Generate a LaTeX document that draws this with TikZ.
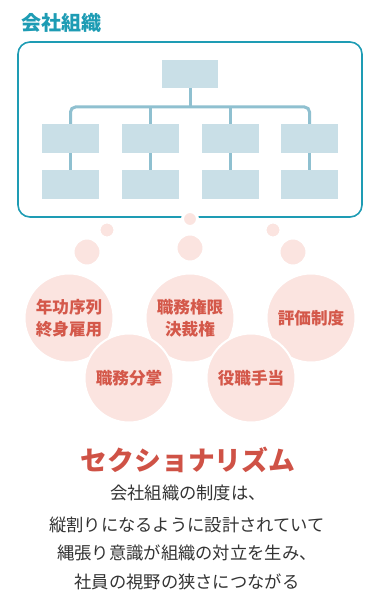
\documentclass[tikz,border=0pt]{standalone}
\usepackage{fontspec}
\setmainfont{Noto Sans CJK JP}
\usetikzlibrary{positioning}
\definecolor{teal1}{HTML}{1E9CB4}
\definecolor{boxfill}{HTML}{C9DFE7}
\definecolor{linec}{HTML}{8FC0D0}
\definecolor{pinkfill}{HTML}{FBE4E0}
\definecolor{redtxt}{HTML}{D4584A}
\definecolor{redtitle}{HTML}{CF5246}
\definecolor{graytxt}{HTML}{333333}
\tikzset{
  orgbox/.style={fill=boxfill, draw=none, minimum width=57pt, minimum height=29pt, inner sep=0pt},
  orgline/.style={draw=linec, line width=3pt},
  bubble/.style={circle, fill=pinkfill, draw=white, line width=2pt, inner sep=0pt},
  bigbubble/.style={bubble, minimum size=89pt, text=redtxt, font=\fontsize{16.6}{22}\selectfont\bfseries, align=center},
  bodytxt/.style={text=graytxt, font=\fontsize{17.3}{20}\selectfont, inner sep=0pt}
}
\begin{document}
\begin{tikzpicture}[x=1pt,y=-1pt]
\useasboundingbox (0,0) rectangle (382,596);
% title
\node[anchor=west, text=teal1, font=\fontsize{20}{22}\selectfont\bfseries, inner sep=0pt] (title) at (21,23) {会社組織};
% frame
\node[draw=teal1, line width=1.6pt, rounded corners=12pt, minimum width=344pt, minimum height=175pt, inner sep=0pt] (frame) at (190,129.5) {};
% org chart
\node[orgbox, minimum width=56pt, minimum height=28pt] (top) at (190,74) {};
\foreach \i/\x in {1/70.5,2/150,3/230,4/309.5}{
  \node[orgbox] (m\i) at (\x,138.5) {};
  \node[orgbox] (b\i) at (\x,184.5) {};
  \draw[orgline] (m\i.south) -- (b\i.north);
}
\coordinate (hl) at (70.5,107);
\coordinate (hr) at (309.5,107);
\coordinate (hc) at (190,107);
\draw[orgline, rounded corners=5pt] (m1.north) -- (hl) -- (hr) -- (m4.north);
\draw[orgline] (top.south) -- (hc);
\draw[orgline] (hc -| m2.north) -- (m2.north);
\draw[orgline] (hc -| m3.north) -- (m3.north);
% thought bubbles
\node[bubble, minimum size=15pt, draw=white, line width=3pt] (s0) at (190,219) {};
\node[bubble, minimum size=15pt] (s1) at (107,230) {};
\node[bubble, minimum size=27pt] (d1) at (87,252) {};
\node[bubble, minimum size=27pt] (d0) at (190,248) {};
\node[bubble, minimum size=15pt] (s2) at (273,230) {};
\node[bubble, minimum size=27pt] (d2) at (293,252) {};
% big circles
\node[bigbubble] (c1) at (69,318) {年功序列\\終身雇用};
\node[bigbubble] (c2) at (190,318) {職務権限\\決裁権};
\node[bigbubble] (c3) at (311,318) {評価制度};
\node[bigbubble] (c4) at (129,378) {職務分掌};
\node[bigbubble] (c5) at (251,378) {役職手当};
% bottom text
\node[text=redtitle, font=\fontsize{26.8}{28}\selectfont\bfseries, inner sep=0pt] (sect) at (188,460) {セクショナリズム};
\node[bodytxt] (l1) at (188,493) {会社組織の制度は、};
\node[bodytxt] (l2) at (187,525) {縦割りになるように設計されていて};
\node[bodytxt] (l3) at (187,553) {縄張り意識が組織の対立を生み、};
\node[bodytxt] (l4) at (187,582) {社員の視野の狭さにつながる};
\end{tikzpicture}
\end{document}
